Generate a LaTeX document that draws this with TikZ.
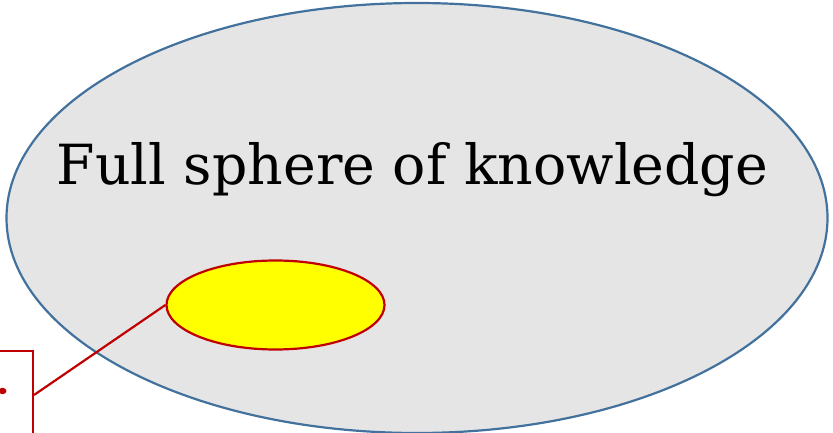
\documentclass[tikz,border=0pt]{standalone}
\usepackage{fontspec}
\setmainfont{DejaVu Serif}
\usetikzlibrary{shapes.geometric}
\definecolor{bigfill}{RGB}{229,229,229}
\definecolor{bigline}{RGB}{65,113,156}
\definecolor{darkred}{RGB}{192,0,0}
\definecolor{brightyellow}{RGB}{255,255,0}
\tikzset{
  bigell/.style={ellipse, draw=bigline, fill=bigfill, line width=2.2pt, inner sep=0pt},
  smallell/.style={ellipse, draw=darkred, fill=brightyellow, line width=2.2pt, inner sep=0pt},
  conn/.style={draw=darkred, line width=2.2pt},
  callbox/.style={draw=darkred, line width=2pt, fill=white, inner sep=0pt}
}
\begin{document}
\begin{tikzpicture}[x=1pt,y=-1pt]
\useasboundingbox (0,0) rectangle (833,433);
\clip (0,0) rectangle (833,433);
\node[bigell, minimum width=821pt, minimum height=430pt] (sphere) at (417,218) {};
\node[anchor=base, inner sep=0pt] (title) at (412.5,185) {\resizebox{711pt}{!}{Full sphere of knowledge}};
\node[smallell, minimum width=218pt, minimum height=89pt] (known) at (275.5,305) {};
\node[callbox, minimum width=120pt, minimum height=150pt, anchor=north east] (box) at (34,350) {};
\fill[darkred] (2.5,391) ellipse (4pt and 3.2pt);
\coordinate (boxpt) at (34,395);
\draw[conn] (boxpt) -- (known.west);
\end{tikzpicture}
\end{document}
